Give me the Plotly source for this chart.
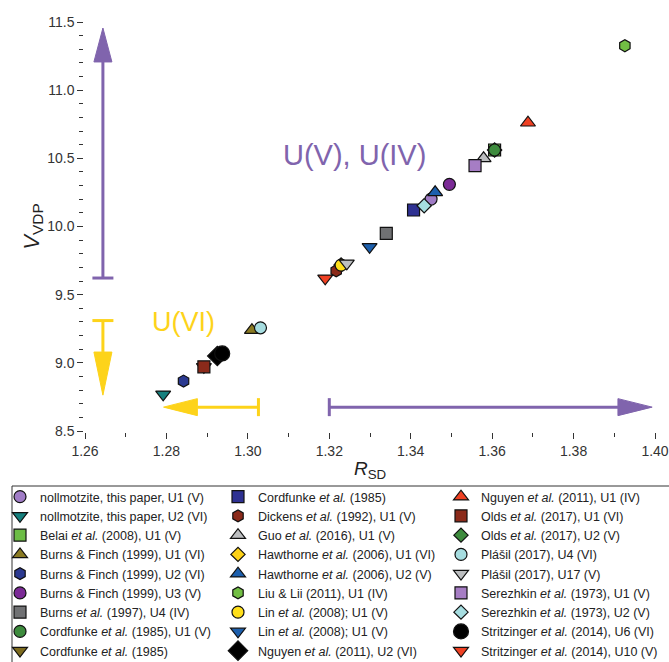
import plotly.graph_objects as go

# ---- data ----
names = [
    "nollmotzite, this paper, U1 (V)",
    "nollmotzite, this paper, U2 (VI)",
    "Belai <i>et al.</i> (2008), U1 (V)",
    "Burns &amp; Finch (1999), U1 (VI)",
    "Burns &amp; Finch (1999), U2 (VI)",
    "Burns &amp; Finch (1999), U3 (V)",
    "Burns <i>et al.</i> (1997), U4 (IV)",
    "Cordfunke <i>et al.</i> (1985), U1 (V)",
    "Cordfunke <i>et al.</i> (1985)",
    "Cordfunke <i>et al.</i> (1985)",
    "Dickens <i>et al.</i> (1992), U1 (V)",
    "Guo <i>et al.</i> (2016), U1 (V)",
    "Hawthorne <i>et al.</i> (2006), U1 (VI)",
    "Hawthorne <i>et al.</i> (2006), U2 (V)",
    "Liu &amp; Lii (2011), U1 (IV)",
    "Lin <i>et al.</i> (2008); U1 (V)",
    "Lin <i>et al.</i> (2008); U1 (V)",
    "Nguyen <i>et al.</i> (2011), U2 (VI)",
    "Nguyen <i>et al.</i> (2011), U1 (IV)",
    "Olds <i>et al.</i> (2017), U1 (VI)",
    "Olds <i>et al.</i> (2017), U2 (V)",
    "Plášil (2017), U4 (VI)",
    "Plášil (2017), U17 (V)",
    "Serezhkin <i>et al.</i> (1973), U1 (V)",
    "Serezhkin <i>et al.</i> (1973), U2 (V)",
    "Stritzinger <i>et al.</i> (2014), U6 (VI)",
    "Stritzinger <i>et al.</i> (2014), U10 (V)",
]
r_sd = [1.3450, 1.2792, 1.3606, 1.3010, 1.2842, 1.3495, 1.3340, 1.3606, 1.2892,
        1.3407, 1.3217, 1.3579, 1.3229, 1.3460, 1.3926, 1.3229, 1.3299, 1.2925,
        1.3688, 1.2892, 1.3606, 1.3031, 1.3243, 1.3558, 1.3433, 1.2937, 1.3190]
v_vdp = [10.201, 8.769, 10.561, 9.240, 8.866, 10.309, 9.950, 10.561, 8.971,
         10.121, 9.675, 10.500, 9.717, 10.251, 11.326, 9.717, 9.851, 9.050,
         10.761, 8.971, 10.561, 9.257, 9.730, 10.446, 10.152, 9.069, 9.620]
symbols = ["circle", "triangle-down", "square", "triangle-up", "hexagon", "circle",
           "square", "circle", "triangle-down", "square", "hexagon", "triangle-up",
           "diamond", "triangle-up", "hexagon", "circle", "triangle-down", "diamond",
           "triangle-up", "square", "diamond", "circle", "triangle-down", "square",
           "diamond", "circle", "triangle-down"]
colors = ["#a07cc6", "#16807e", "#6cbd45", "#8a7a22", "#2b3990", "#7b2a96",
          "#707173", "#3d8b3d", "#7d6b1e", "#2e3192", "#8b2a1a", "#bcbec0",
          "#fcd116", "#1c5fad", "#72bf44", "#ffdf1a", "#1c5fad", "#000000",
          "#ef4123", "#8b2a1a", "#3d8b3d", "#a6dde0", "#bcbec0", "#a67dc4",
          "#a6dde0", "#000000", "#ef4123"]
hidden = [2, 8, 12, 20]  # entries fully covered by other markers

legend_ids = ["legend", "legend2", "legend3"]
fig = go.Figure()
for i, nm in enumerate(names):
    col = i // 9
    big = colors[i] == "#000000"
    sz = 15 if big else 12
    if symbols[i] == "diamond" and not big:
        sz -= 1
    if symbols[i].startswith("triangle"):
        sz += 1
    fig.add_trace(go.Scatter(
        x=[r_sd[i]], y=[v_vdp[i]], mode="markers", name=nm,
        marker=dict(symbol=symbols[i], color=colors[i], size=sz,
                    line=dict(color="#111", width=1.2)),
        legend=legend_ids[col],
        zorder=-1 if i in hidden else 0,
    ))

PURPLE = "#8064ad"
YELLOW = "#fdd31a"
dx = 0.14 / 570.0   # data per px (x)
dy = 3.0 / 409.0    # data per px (y)

shapes = []
def line(x0, y0, x1, y1, c):
    shapes.append(dict(type="line", xref="x", yref="y", x0=x0, y0=y0, x1=x1, y1=y1,
                       line=dict(color=c, width=3)))
def tri(pts, c):
    p = "M " + " L ".join(f"{a},{b}" for a, b in pts) + " Z"
    shapes.append(dict(type="path", xref="x", yref="y", path=p, fillcolor=c,
                       line=dict(color=c, width=1)))

# purple vertical arrow
xa = 1.2644
line(xa, 9.622, xa, 11.21, PURPLE)
line(xa - 10.5 * dx, 9.622, xa + 10.5 * dx, 9.622, PURPLE)
tri([(xa - 9 * dx, 11.207), (xa + 9 * dx, 11.207), (xa, 11.456)], PURPLE)
# yellow vertical arrow
line(xa, 9.31, xa, 9.08, YELLOW)
line(xa - 10.5 * dx, 9.31, xa + 10.5 * dx, 9.31, YELLOW)
tri([(xa - 9 * dx, 9.079), (xa + 9 * dx, 9.079), (xa, 8.763)], YELLOW)
# yellow horizontal arrow
ya = 8.675
line(1.3026, ya, 1.2876, ya, YELLOW)
line(1.3026, ya - 9 * dy, 1.3026, ya + 9 * dy, YELLOW)
tri([(1.2876, ya - 8.5 * dy), (1.2876, ya + 8.5 * dy), (1.2793, ya)], YELLOW)
# purple horizontal arrow
line(1.3200, ya, 1.3909, ya, PURPLE)
line(1.3200, ya - 9 * dy, 1.3200, ya + 9 * dy, PURPLE)
tri([(1.3909, ya - 8.5 * dy), (1.3909, ya + 8.5 * dy), (1.3993, ya)], PURPLE)

# legend frame (drawn as a paper-referenced rectangle)
L, T, W, H = 85, 22, 570, 409
shapes.append(dict(type="rect", xref="paper", yref="paper",
                   x0=(12 - L) / W, x1=(690 - L) / W,
                   y0=(T + H - 486) / H, y1=(T + H - 700) / H,
                   line=dict(color="#333", width=1), fillcolor="rgba(0,0,0,0)"))

annotations = [
    dict(x=1.3262, y=10.524, xref="x", yref="y", text="U(V), U(IV)", showarrow=False,
         font=dict(size=29, color=PURPLE, family="Arial, Liberation Sans")),
    dict(x=1.2842, y=9.30, xref="x", yref="y", text="U(VI)", showarrow=False,
         font=dict(size=27, color=YELLOW, family="Arial, Liberation Sans")),
]

axis_common = dict(showline=True, linecolor="#333", linewidth=1.5, mirror=True,
                   ticks="outside", ticklen=6, tickwidth=1.2, tickcolor="#333",
                   showgrid=False, zeroline=False, automargin=False,
                   tickfont=dict(size=14, color="#333", family="Arial, Liberation Sans"))

legend_common = dict(orientation="h", xref="container", yref="container",
                     xanchor="left", y=1 - 482 / 662, yanchor="top", itemwidth=30,
                     entrywidth=320, entrywidthmode="pixels",
                     borderwidth=0, bgcolor="rgba(0,0,0,0)",
                     font=dict(size=12.5, color="#222", family="Arial, Liberation Sans"),
                     tracegroupgap=0, traceorder="normal")
fig.update_layout(
    width=669, height=662,
    paper_bgcolor="white", plot_bgcolor="white",
    margin=dict(l=L, r=669 - L - W, t=T, b=662 - T - H),
    shapes=shapes, annotations=annotations,
    xaxis=dict(range=[1.26, 1.40], dtick=0.02, tick0=1.26, tickformat=".2f",
               minor=dict(dtick=0.01, ticks="outside", ticklen=4, tickcolor="#333"),
               title=dict(text="<i>R</i><sub>SD</sub>", standoff=6,
                          font=dict(size=19, color="#222", family="Arial, Liberation Sans")),
               **axis_common),
    yaxis=dict(range=[8.5, 11.5], dtick=0.5, tick0=8.5, tickformat=".1f",
               minor=dict(dtick=0.1, ticks="outside", ticklen=4, tickcolor="#333"),
               title=dict(text="<i>V</i><sub>VDP</sub>", standoff=2,
                          font=dict(size=22, color="#222", family="Arial, Liberation Sans")),
               **axis_common),
    showlegend=True,
    legend=dict(x=0.0, **legend_common),
    legend2=dict(x=218 / 669, **legend_common),
    legend3=dict(x=441 / 669, **legend_common),
)
fig.write_html("out.html", config={"displayModeBar": False},
               post_script="document.body.style.margin='0px';")
